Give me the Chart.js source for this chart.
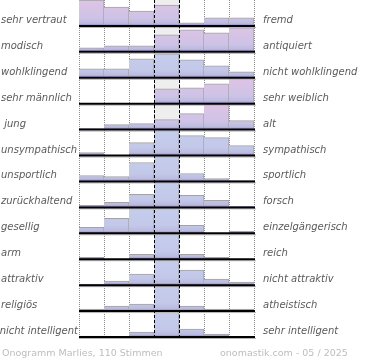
<!DOCTYPE html>
<html>
<head>
<meta charset="utf-8">
<script src="https://cdn.jsdelivr.net/npm/chart.js@4/dist/chart.umd.min.js"></script>
<style>
  html, body { margin: 0; padding: 0; background: #fff; }
  canvas { display: block; }
</style>
</head>
<body>
<canvas id="ono" width="370" height="360"></canvas>
<script>
// --- Onogramm Marlies: Stimmenanteil je Stufe (in %) ---
const leftLabels = ['sehr vertraut', 'modisch', 'wohlklingend', 'sehr männlich', ' jung', 'unsympathisch',
  'unsportlich', 'zurückhaltend', 'gesellig', 'arm', 'attraktiv', 'religiös', 'nicht intelligent'];
const rightLabels = ['fremd', 'antiquiert', 'nicht wohlklingend', 'sehr weiblich', 'alt', 'sympathisch',
  'sportlich', 'forsch', 'einzelgängerisch', 'reich', 'nicht attraktiv', 'atheistisch', 'sehr intelligent'];
const steps = ['1', '2', '3', '4', '5', '6', '7'];

const vertraut      = [26, 19, 15, 21, 3, 8, 8];
const modisch       = [4, 6, 6, 17, 22, 19, 24];
const wohlklingend  = [9, 9, 19, 24, 18, 12, 6];
const maennlich     = [0, 0, 0, 15, 16, 20, 49];
const jung          = [1, 5, 6, 10, 16, 53, 9];
const unsympathisch = [3, 0, 13, 36, 20, 18, 10];
const unsportlich   = [6, 5, 19, 58, 8, 3, 1];
const zurueckhaltend = [2, 5, 13, 60, 12, 7, 1];
const gesellig      = [6, 15, 32, 37, 8, 0, 2];
const arm           = [2, 0, 5, 86, 5, 2, 0];
const attraktiv     = [1, 4, 11, 60, 15, 6, 3];
const religioes     = [2, 5, 7, 77, 5, 2, 2];
const intelligent   = [1, 0, 5, 83, 8, 3, 0];

const rows = [vertraut, modisch, wohlklingend, maennlich, jung, unsympathisch, unsportlich,
  zurueckhaltend, gesellig, arm, attraktiv, religioes, intelligent];

const footerLeft = 'Onogramm Marlies, 110 Stimmen';
const footerRight = 'onomastik.com - 05 / 2025';

// mittlere Stufe einer Zeile -> deutlich schiefe Zeilen werden rosa getönt
function meanStep(vals) {
  const total = vals.reduce((a, b) => a + b, 0);
  return vals.reduce((a, v, k) => a + v * (k + 1), 0) / total;
}

function barFill(c, i) {
  const chart = c.chart;
  const s = chart.scales['y' + i];
  if (!s || !chart.chartArea) return '#c4c9e9';
  const tilted = Math.abs(meanStep(rows[i]) - 4) > 0.75;
  const g = chart.ctx.createLinearGradient(0, s.top, 0, s.bottom);
  g.addColorStop(0, tilted ? '#e0c3e5' : '#c5cdec');
  g.addColorStop(0.7, tilted ? '#cdc3e6' : '#c3c8e9');
  g.addColorStop(0.9, '#bbbbe0');
  g.addColorStop(0.95, '#a69ccb');
  g.addColorStop(1, '#9383bb');
  return g;
}

function line(ctx, x1, y1, x2, y2) {
  ctx.beginPath();
  ctx.moveTo(x1, y1);
  ctx.lineTo(x2, y2);
  ctx.stroke();
}

const rowDecor = {
  id: 'rowDecor',
  beforeDraw(chart) {
    const { ctx, chartArea: a, scales: { x } } = chart;
    const half = x.width / steps.length / 2;
    const mid = x.getPixelForValue(3);
    ctx.save();
    ctx.fillStyle = '#fff';
    ctx.fillRect(0, 0, chart.width, chart.height);
    ctx.fillStyle = '#eeeeee';
    ctx.fillRect(mid - half, a.top, half * 2, a.bottom - a.top);
    ctx.restore();
  },
  beforeDatasetDraw(chart, args) {
    const s = args.meta.yScale;
    const a = chart.chartArea;
    chart.ctx.save();
    chart.ctx.beginPath();
    chart.ctx.rect(a.left, s.top, a.right - a.left, s.bottom - s.top);
    chart.ctx.clip();
  },
  afterDatasetDraw(chart) {
    chart.ctx.restore();
  },
  afterDatasetsDraw(chart) {
    const { ctx, chartArea: a, scales: { x } } = chart;
    const half = x.width / steps.length / 2;
    const mid = x.getPixelForValue(3);
    ctx.save();
    rows.forEach((r, i) => {
      const y = chart.scales['y' + i].getPixelForValue(0);
      ctx.strokeStyle = '#b4b4b4';
      ctx.lineWidth = 1;
      line(ctx, a.left, y + 1.5, a.right + 2, y + 1.5);
      ctx.strokeStyle = '#000';
      ctx.lineWidth = 2;
      line(ctx, a.left, y, a.right + 1, y);
    });
    ctx.strokeStyle = '#000';
    ctx.lineWidth = 1;
    ctx.setLineDash([3, 2]);
    line(ctx, Math.round(mid - half) + 0.5, a.top, Math.round(mid - half) + 0.5, a.bottom);
    line(ctx, Math.round(mid + half) + 0.5, a.top, Math.round(mid + half) + 0.5, a.bottom);
    ctx.restore();
  },
  afterDraw(chart) {
    const { ctx, chartArea: a } = chart;
    ctx.save();
    ctx.font = 'italic 10px "DejaVu Sans"';
    ctx.fillStyle = '#5a5a5a';
    ctx.textBaseline = 'alphabetic';
    rows.forEach((r, i) => {
      const y = chart.scales['y' + i].getPixelForValue(0) - 3;
      const lw = ctx.measureText(leftLabels[i]).width;
      if (lw > a.left - 2) {
        ctx.textAlign = 'right';
        ctx.fillText(leftLabels[i], a.left - 1, y);
      } else {
        ctx.textAlign = 'left';
        ctx.fillText(leftLabels[i], 1, y);
      }
      ctx.textAlign = 'left';
      ctx.fillText(rightLabels[i], a.right + 9, y);
    });
    ctx.font = '9.5px "DejaVu Sans"';
    ctx.fillStyle = '#bdbdbd';
    ctx.fillText(footerLeft, 2, 356);
    ctx.fillText(footerRight, 220, 356);
    ctx.restore();
  }
};

const scales = {
  x: {
    type: 'category',
    grid: { color: '#8a8a8a', lineWidth: 1, drawTicks: false },
    border: { display: false, dash: [1, 1] },
    ticks: { display: false }
  }
};
rows.forEach((r, i) => {
  scales['y' + i] = {
    type: 'linear',
    position: 'left',
    stack: 'rows',
    stackWeight: 1,
    weight: rows.length - i,
    min: 0,
    max: 26,
    display: false
  };
});

new Chart(document.getElementById('ono'), {
  type: 'bar',
  data: {
    labels: steps,
    datasets: rows.map((r, i) => ({
      data: r,
      yAxisID: 'y' + i,
      backgroundColor: c => barFill(c, i),
      borderColor: '#a2a2aa',
      borderWidth: { top: 1, right: 1, bottom: 0, left: 0 },
      grouped: false,
      barPercentage: 1,
      categoryPercentage: 1,
      clip: 0
    }))
  },
  options: {
    responsive: false,
    animation: false,
    devicePixelRatio: 1,
    layout: { padding: { left: 79, right: 116, top: -1, bottom: 23 } },
    plugins: { legend: { display: false }, tooltip: { enabled: false } },
    scales: scales
  },
  plugins: [rowDecor]
});
</script>
</body>
</html>
